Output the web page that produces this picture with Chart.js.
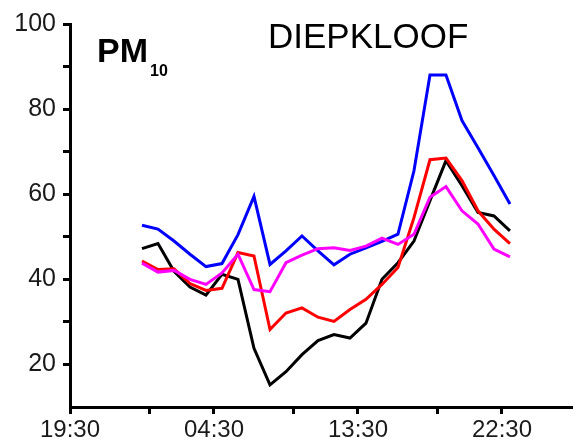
<!DOCTYPE html>
<html>
<head>
<meta charset="utf-8">
<script src="https://cdn.jsdelivr.net/npm/chart.js@4"></script>
<style>
    body { margin: 0; background: #fff; }
    #wrap { position: relative; width: 573px; height: 445px; }
    .lbl { position: absolute; font-family: "Liberation Sans", Arial, sans-serif; color: #000; white-space: nowrap; }
    #title { left: 268px; top: 18px; font-size: 35px; line-height: 35px; }
    #pm { left: 97px; top: 33px; font-size: 34px; line-height: 34px; font-weight: bold; }
    #sub { left: 150px; top: 63px; font-size: 16px; line-height: 16px; font-weight: bold; }
</style>
</head>
<body>
<div id="wrap">
    <canvas id="chart" width="573" height="445"></canvas>
    <div class="lbl" id="title">DIEPKLOOF</div>
    <div class="lbl" id="pm">PM</div>
    <div class="lbl" id="sub">10</div>
</div>
<script>
// hour of day for each reading (00:00 .. 23:00)
const hours = [0, 1, 2, 3, 4, 5, 6, 7, 8, 9, 10, 11, 12, 13, 14, 15, 16, 17, 18, 19, 20, 21, 22, 23];

const blue    = [52.7, 51.8, 49.0, 45.9, 43.0, 43.7, 50.5, 59.5, 43.5, 46.7, 50.2, 46.7, 43.4, 45.9, 47.4, 48.9, 50.6, 65.5, 88.0, 88.0, 77.3, 70.9, 64.4, 57.7];
const black   = [47.2, 48.4, 41.9, 38.2, 36.3, 41.2, 40.0, 23.8, 15.2, 18.3, 22.3, 25.6, 27.0, 26.2, 29.7, 40.0, 43.9, 49.0, 58.5, 67.9, 62.0, 55.7, 54.9, 51.4];
const red     = [44.3, 42.3, 42.5, 39.0, 37.4, 37.9, 46.3, 45.5, 28.2, 32.1, 33.3, 31.1, 30.1, 32.9, 35.3, 38.8, 42.8, 54.5, 68.1, 68.5, 63.2, 56.1, 51.8, 48.4];
const magenta = [43.8, 41.7, 42.1, 40.0, 38.8, 41.5, 45.9, 37.6, 37.1, 43.9, 45.7, 47.2, 47.4, 46.8, 47.8, 49.7, 48.2, 50.6, 59.3, 61.8, 56.1, 53.0, 47.1, 45.3];

// x ticks in hours (19:30 of the previous day = -4.5)
const xTicks = [-4.5, 0.5, 4.5, 9.5, 13.5, 18.5, 22.5];
const xLabels = { "-4.5": "19:30", "4.5": "04:30", "13.5": "13:30", "22.5": "22:30" };
const yTicks = [20, 30, 40, 50, 60, 70, 80, 90, 100];
const yLabels = [20, 40, 60, 80, 100];

function series(vals, color) {
    return {
        data: hours.map((h, i) => ({ x: h, y: vals[i] })),
        borderColor: color,
        borderWidth: 3,
        pointRadius: 0,
        tension: 0,
        fill: false
    };
}

const tickFont = { family: "'Liberation Sans', Arial, sans-serif", size: 25 };

new Chart(document.getElementById("chart"), {
    type: "line",
    data: {
        // first dataset ends up on top
        datasets: [
            series(magenta, "#ff00ff"),
            series(red, "#ff0000"),
            series(black, "#000000"),
            series(blue, "#0000ff")
        ]
    },
    options: {
        responsive: false,
        animation: false,
        layout: { padding: { top: 24, right: 0, left: 0, bottom: 0 } },
        plugins: { legend: { display: false }, tooltip: { enabled: false } },
        scales: {
            x: {
                type: "linear",
                min: -4.5,
                max: 26.94,
                afterBuildTicks: s => { s.ticks = xTicks.map(v => ({ value: v })); },
                afterFit: s => { s.height = 38; },
                border: { color: "#000", width: 3 },
                grid: { drawOnChartArea: false, tickLength: 7, tickWidth: 3, tickColor: "#000" },
                ticks: {
                    autoSkip: false,
                    maxRotation: 0,
                    padding: 2,
                    color: "#1a1a1a",
                    font: { family: tickFont.family, size: 24 },
                    callback: v => xLabels[String(v)] || ""
                }
            },
            y: {
                min: 10,
                max: 100,
                afterBuildTicks: s => { s.ticks = yTicks.map(v => ({ value: v })); },
                afterFit: s => { s.width = 70; },
                border: { color: "#000", width: 3 },
                grid: { drawOnChartArea: false, tickLength: 7, tickWidth: 3, tickColor: "#000" },
                ticks: {
                    autoSkip: false,
                    padding: 7,
                    color: "#1a1a1a",
                    font: tickFont,
                    callback: v => yLabels.includes(v) ? String(v) : ""
                }
            }
        }
    }
});
</script>
</body>
</html>
